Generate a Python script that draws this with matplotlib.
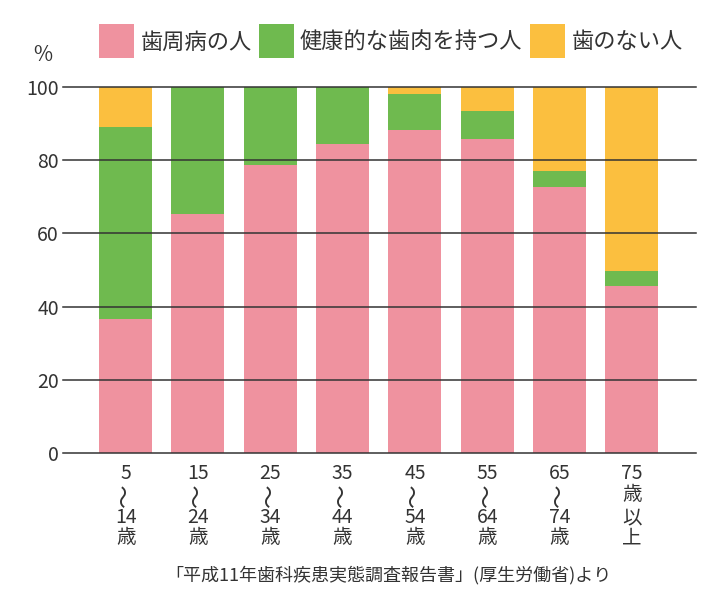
import numpy as np
import matplotlib.pyplot as plt
from matplotlib.patches import Rectangle

plt.rcParams['font.family'] = ['Noto Sans CJK JP', 'DejaVu Sans']

# Datos (%)
grupos = [["5", "〜", "14", "歳"], ["15", "〜", "24", "歳"], ["25", "〜", "34", "歳"],
          ["35", "〜", "44", "歳"], ["45", "〜", "54", "歳"], ["55", "〜", "64", "歳"],
          ["65", "〜", "74", "歳"], ["75", "歳", "以", "上"]]
shishubyo = [36.7, 65.4, 78.7, 84.4, 88.3, 85.8, 72.6, 45.6]
kenko = [52.4, 34.6, 21.3, 15.6, 9.8, 7.6, 4.4, 4.2]
ha_nashi = [10.9, 0.0, 0.0, 0.0, 1.9, 6.6, 23.0, 50.2]
series = ["歯周病の人", "健康的な歯肉を持つ人", "歯のない人"]
colores = ["#EF929F", "#6FBA4F", "#FBBF3F"]
yticks = [0, 20, 40, 60, 80, 100]
fuente = "「平成11年歯科疾患実態調査報告書」(厚生労働省)より"

texto = "#333333"

fig = plt.figure(figsize=(7.2, 6.08), dpi=100)
ax = fig.add_axes([0.0875, 0.255, 0.879, 0.602])

x = np.arange(len(grupos))
ancho = 0.73
ax.bar(x, shishubyo, ancho, color=colores[0], zorder=1)
ax.bar(x, kenko, ancho, bottom=shishubyo, color=colores[1], zorder=1)
base = np.array(shishubyo) + np.array(kenko)
ax.bar(x, ha_nashi, ancho, bottom=base, color=colores[2], zorder=1)

ax.set_ylim(0, 100)
ax.set_xlim(-0.865, 7.885)
ax.set_yticks(yticks)
ax.set_yticklabels([str(v) for v in yticks], fontsize=14, color=texto)
ax.tick_params(axis='y', length=0, pad=3)
ax.set_xticks([])
for yv in yticks:
  ax.axhline(yv, color=texto, lw=1.1, zorder=3, clip_on=False)
for s in ax.spines.values():
  s.set_visible(False)

# Etiquetas de edad, línea por línea (desplazamiento en píxeles bajo el eje)
offs = [21, 42, 65, 85]
for i, lineas in enumerate(grupos):
  for j, t in enumerate(lineas):
    ola = (t == "〜")
    ax.annotate(t, xy=(x[i], 0), xycoords=('data', 'axes fraction'),
                xytext=(0, -offs[j] * 0.72), textcoords='offset points',
                ha='center', va='center', fontsize=17 if ola else 14,
                color=texto, rotation=90 if ola else 0,
                annotation_clip=False)

fig.text(0.059, 0.909, "%", fontsize=15, color=texto, ha='center', va='center')

# Leyenda manual
cx = [99, 258.5, 530]
tx = [141, 300, 572]
for k in range(len(series)):
  fig.patches.append(Rectangle((cx[k] / 720, 1 - 58 / 608), 35 / 720, 34 / 608,
                               transform=fig.transFigure, facecolor=colores[k],
                               edgecolor='none'))
  fig.text(tx[k] / 720, 1 - 42 / 608, series[k], fontsize=16, color=texto,
           ha='left', va='center')

fig.text(0.54, 0.054, fuente, fontsize=13, color=texto, ha='center', va='center')

fig.savefig("out.png", dpi=100)
